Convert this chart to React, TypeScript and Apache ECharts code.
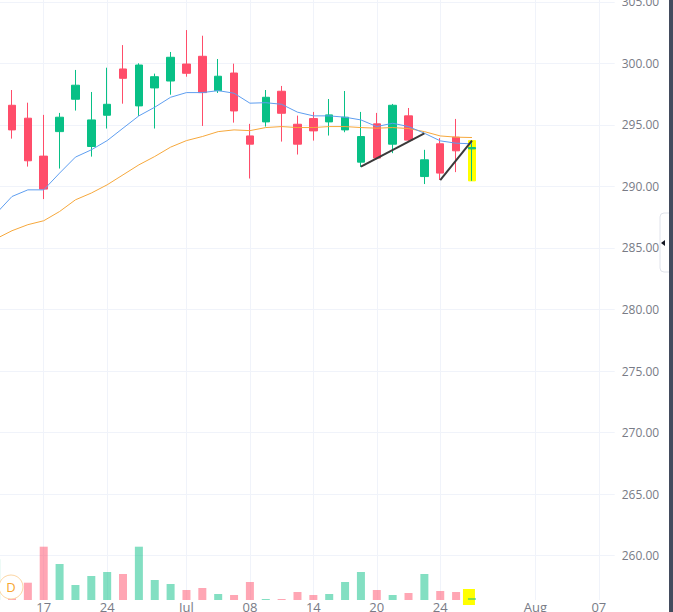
import React, { useEffect, useRef } from 'react';
import * as echarts from 'echarts';

// Time axis: one category per bar slot (31 bars + empty future slots)
const dateLabels = ['', '', '', '17', '', '', '', '24', '', '', '', '', 'Jul', '', '', '', '08', '', '', '', '14', '', '', '', '20', '', '', '', '24', '', '', '', '', '', 'Aug', '', '', '', '07', ''];

const opens = [291.61, 296.59, 295.54, 292.46, 294.45, 297.08, 293.24, 295.78, 299.54, 296.54, 298.0, 298.56, 299.94, 300.57, 297.78, 299.21, 294.1, 295.24, 297.73, 295.05, 295.51, 295.24, 294.59, 291.97, 295.08, 293.43, 295.73, 290.8, 293.46, 294.0, 293.05];
const closes = [292.97, 294.59, 292.08, 289.78, 295.62, 298.22, 295.4, 296.67, 298.78, 299.86, 298.91, 300.49, 299.19, 297.62, 298.95, 296.13, 293.43, 297.24, 295.94, 293.43, 294.51, 295.81, 295.62, 294.05, 292.3, 296.59, 293.76, 292.16, 291.08, 292.89, 293.15];
const lows = [291.2, 293.88, 291.61, 288.97, 291.45, 296.16, 292.42, 294.7, 296.72, 295.73, 294.7, 297.45, 298.91, 294.91, 297.59, 295.18, 290.64, 294.86, 293.64, 292.59, 293.72, 294.13, 294.4, 291.57, 292.2, 292.7, 293.64, 290.19, 290.53, 291.16, 290.45];
const highs = [293.5, 297.83, 296.8, 295.81, 295.97, 299.46, 297.67, 299.64, 301.48, 300.0, 299.16, 300.92, 302.7, 302.24, 300.35, 299.97, 295.08, 297.83, 298.16, 295.75, 296.05, 297.1, 297.75, 296.05, 295.97, 296.7, 296.37, 292.97, 293.92, 295.48, 293.72];
const volumes = [4070, 2000, 1730, 5330, 3600, 1500, 2400, 2800, 2600, 5330, 2000, 1600, 1000, 1200, 600, 500, 1800, 100, 100, 800, 500, 600, 1800, 2800, 1000, 500, 700, 2600, 900, 800, 200];
const maFast = [287.8, 289.18, 289.72, 289.72, 291.08, 292.38, 292.97, 293.72, 294.73, 295.73, 296.43, 297.24, 297.62, 297.62, 297.78, 297.57, 296.76, 296.8, 296.67, 296.03, 295.73, 295.73, 295.62, 295.4, 294.86, 295.13, 294.86, 294.32, 293.7, 293.51, 293.46];
const maSlow = [285.75, 286.4, 286.89, 287.21, 287.96, 288.91, 289.46, 290.13, 290.94, 291.75, 292.43, 293.19, 293.72, 294.05, 294.45, 294.59, 294.53, 294.78, 294.86, 294.78, 294.78, 294.86, 294.86, 294.78, 294.73, 294.78, 294.7, 294.45, 294.1, 294.0, 293.97];
const trendA = [[23, 291.6], [27, 294.3]];
const trendB = [[28, 290.5], [30, 293.72]];
const highlightIndex = 30;
const highlightVolume = [1100, -500];

const UP = '#08c086';
const DOWN = '#ff4d6a';
const UP_VOL = 'rgba(8,192,134,0.5)';
const DOWN_VOL = 'rgba(255,77,106,0.5)';
const GRID_LINE = '#f0f3fa';
const TEXT = '#787b86';
const FONT = '"Open Sans", Roboto, sans-serif';

export default function App() {
  const ref = useRef<HTMLDivElement>(null);
  useEffect(() => {
    if (!ref.current) return;
    const chart = echarts.init(ref.current, null, { renderer: 'svg' });
    const candles = opens.map((o, i) => [o, closes[i], lows[i], highs[i]]);
    const yellow = opens.map((_, i) => (i === highlightIndex ? [highs[i], lows[i], lows[i], highs[i]] : '-'));
    const vols = volumes.map((v, i) => ({
      value: v,
      itemStyle: { color: closes[i] >= opens[i] ? UP_VOL : DOWN_VOL },
    }));
    const showIdx = (idx: number) => dateLabels[idx] !== '';
    const gridL = -3.86;
    const gridR = 58.3;
    chart.setOption({
      animation: false,
      backgroundColor: '#ffffff',
      grid: [
        { left: gridL, right: gridR, top: 1.75, bottom: -5.25, containLabel: false, outerBoundsMode: 'none' },
        { left: gridL, right: gridR, top: 0, bottom: 12, containLabel: false, outerBoundsMode: 'none' },
      ],
      xAxis: [
        { type: 'category', gridIndex: 0, data: dateLabels, boundaryGap: false, show: false },
        {
          type: 'category', gridIndex: 1, data: dateLabels, boundaryGap: false,
          axisLine: { show: false }, axisTick: { show: false },
          axisLabel: { interval: (i: number) => showIdx(i), color: TEXT, fontSize: 13, fontFamily: FONT, margin: 0 },
          splitLine: { show: true, interval: (i: number) => showIdx(i), lineStyle: { color: GRID_LINE, width: 1 } },
        },
      ],
      yAxis: [
        {
          type: 'value', gridIndex: 0, position: 'right', min: 255, max: 305, interval: 5,
          axisLine: { show: false }, axisTick: { show: false },
          axisLabel: { formatter: (v: number) => v.toFixed(2), color: TEXT, fontSize: 12, fontFamily: FONT, margin: 7 },
          splitLine: { show: true, lineStyle: { color: GRID_LINE, width: 1 } },
        },
        { type: 'value', gridIndex: 1, min: 0, max: 60000, show: false },
      ],
      series: [
        {
          type: 'custom', xAxisIndex: 1, yAxisIndex: 1, z: 1,
          data: [[highlightIndex, highlightVolume[0], highlightVolume[1]]],
          encode: { x: 0, y: [1, 2] },
          renderItem: (_p: any, api: any) => {
            const a = api.coord([api.value(0), api.value(1)]);
            const b = api.coord([api.value(0), api.value(2)]);
            return { type: 'rect', shape: { x: a[0] - 9, y: a[1], width: 12, height: b[1] - a[1] }, style: { fill: '#ffff00' } };
          },
        },
        {
          type: 'bar', xAxisIndex: 1, yAxisIndex: 1, data: vols, barWidth: 8, z: 2,
        },
        {
          type: 'candlestick', xAxisIndex: 0, yAxisIndex: 0, data: yellow, barWidth: 7, z: 2,
          itemStyle: { color: '#ffff00', color0: '#ffff00', borderColor: '#ffff00', borderColor0: '#ffff00', borderWidth: 1 },
        },
        {
          type: 'candlestick', xAxisIndex: 0, yAxisIndex: 0, data: candles, barWidth: 8, z: 3,
          itemStyle: { color: UP, color0: DOWN, borderColor: UP, borderColor0: DOWN, borderWidth: 1 },
        },
        {
          type: 'line', xAxisIndex: 0, yAxisIndex: 0, data: maSlow, symbol: 'none', z: 4,
          lineStyle: { color: '#f6a83c', width: 1 },
        },
        {
          type: 'line', xAxisIndex: 0, yAxisIndex: 0, data: maFast, symbol: 'none', z: 4,
          lineStyle: { color: '#5e9ef0', width: 1 },
        },
        {
          type: 'line', xAxisIndex: 0, yAxisIndex: 0, data: trendA, symbol: 'none', z: 5,
          lineStyle: { color: '#3a3a3a', width: 2 },
        },
        {
          type: 'line', xAxisIndex: 0, yAxisIndex: 0, data: trendB, symbol: 'none', z: 5,
          lineStyle: { color: '#3a3a3a', width: 2 },
        },
      ],
      graphic: [
        { type: 'circle', z: 100, shape: { cx: 11, cy: 587, r: 12 }, style: { fill: '#ffffff', stroke: '#fcd6a4', lineWidth: 1 } },
        { type: 'text', z: 101, x: 11, y: 587, style: { text: 'D', fill: '#f7a631', font: '13px "Open Sans", sans-serif', align: 'center', verticalAlign: 'middle' } },
        { type: 'rect', z: 100, shape: { x: 660, y: 213, width: 16, height: 59, r: 4 }, style: { fill: '#ffffff', stroke: '#e0e3eb', lineWidth: 1 } },
        { type: 'polygon', z: 101, shape: { points: [[661, 243], [665, 240], [665, 246]] }, style: { fill: '#131722' } },
        { type: 'rect', z: 102, shape: { x: 669, y: 0, width: 4, height: 612 }, style: { fill: '#434c5e' } },
      ],
    });
    return () => chart.dispose();
  }, []);
  return <div ref={ref} style={{ position: 'fixed', left: 0, top: 0, width: 673, height: 612, background: '#fff' }} />;
}
